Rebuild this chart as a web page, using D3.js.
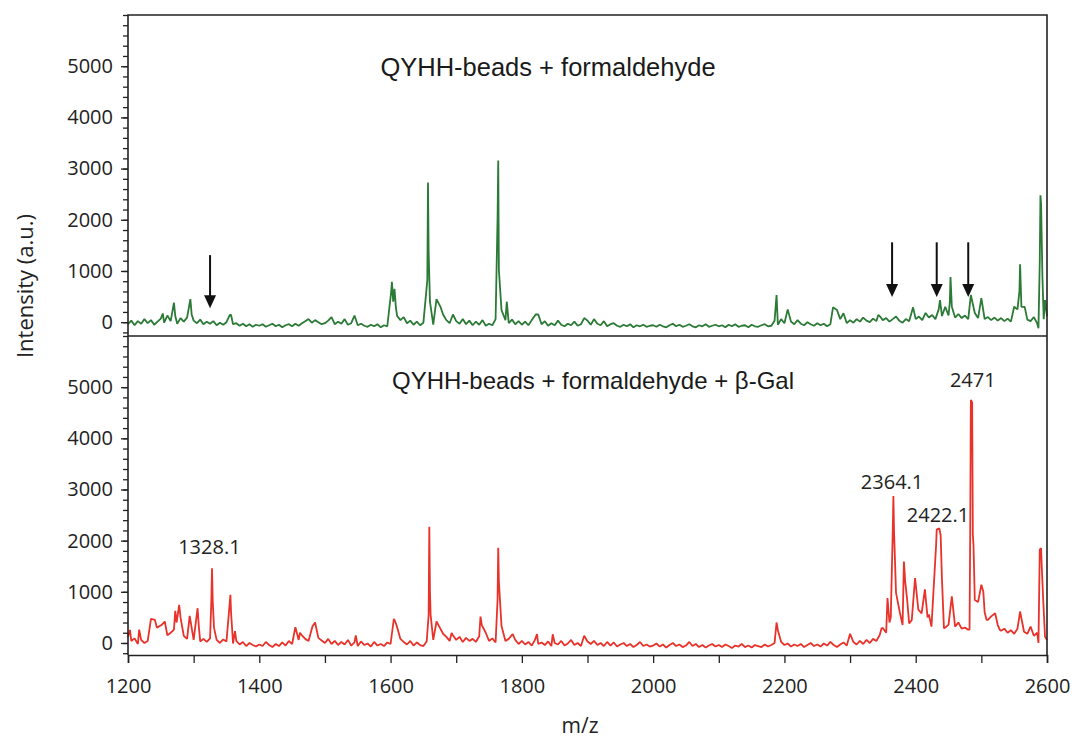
<!DOCTYPE html>
<html>
<head>
<meta charset="utf-8">
<script src="https://cdn.jsdelivr.net/npm/d3@7"></script>
<style>
  body { margin: 0; background: #fff; }
  .tick text { font-family: "Open Sans", sans-serif; font-size: 20px; fill: #222; }
  .title { font-family: "Liberation Sans", Arial, sans-serif; fill: #1a1a1a; }
  .label { font-family: "Open Sans", sans-serif; font-size: 21px; fill: #222; }
  .peak { font-family: "Open Sans", sans-serif; font-size: 20px; fill: #222; }
</style>
</head>
<body>
<svg id="chart" width="1078" height="741"></svg>
<script>
// m/z grid of the baseline arrays: one value every 5 units from 1200
const mzStart = 1200, mzStep = 5

// top spectrum (QYHH-beads + formaldehyde), baseline every 5 m/z
const topBase = [
  -40, 30, -60, 20, -30, 60, -20, 40, -50, 10, 70, -10, 130, 20, 60, -30, 80, 10, 90, 40,
  30, -20, 50, -40, 10, -30, 20, -60, -10, -50, 0, 140, -40, -20, -70, -30, -80, -40, -90, -50,
  -70, -40, -90, -60, -30, -80, -50, -100, -60, -40, -80, -30, -70, -20, 20, 60, -10, 40, 0, -40,
  -20, 30, 100, -40, 10, -30, 60, -50, -20, 130, -60, -30, -70, -90, -50, -80, -40, -100, -60, -80,
  -30, 200, 120, 40, 100, -20, 30, -50, 10, -60, -10, -40, 20, -50, 200, 320, 150, 40, -20, 80,
  20, -30, 60, -40, 30, -60, 10, -50, 40, -70, -30, -60, 60, 250, 120, 40, -20, 50, -40, 20,
  -50, 10, -60, 40, -30, 150, -40, 20, -70, -20, -60, 30, -50, -80, -30, -60, 10, -70, -40, 80,
  30, -50, 60, -30, -60, 20, -80, -40, -20, -70, -90, -50, -80, -40, -100, -60, -80, -50, -90, -70,
  -60, -90, -50, -80, -100, -60, -30, -80, -50, -90, -70, -40, -80, -100, -60, -80, -40, -90, -70, -50,
  -80, -60, -100, -50, -80, -40, -90, -70, -60, -100, -50, -80, -90, -60, -40, -80, -70, 30, -50, 60,
  -20, 80, 10, -40, 40, -30, -60, 0, -40, -70, -20, -60, -30, -80, -40, 50, 240, 60, 120, -20,
  40, -10, 60, 10, 90, 30, 0, 70, 20, 120, 40, 80, 10, 60, 110, 30, -10, 60, 20, 150,
  60, 110, 40, 180, 90, 140, 60, 250, 120, 300, 130, 200, 90, 160, 80, 130, 60, 110, 180, 80,
  150, 60, 100, 40, 90, 30, 80, 20, 70, 10, 180, 250, 120, 80, 50, 20, 100, -20, 160, 60,
  120
]
// sharp peaks of the top spectrum [m/z, intensity]
const topPeaks = [
  [1253, 170], [1270, 380], [1272, 120], [1295, 450], [1297, 150], [1357, 140],
  [1601, 600], [1602, 790], [1604, 400], [1606, 650], [1608, 300],
  [1656, 820], [1657, 2730], [1658, 1370], [1660, 400], [1670, 450], [1676, 300], [1695, 150],
  [1763, 2040], [1764, 3160], [1765, 1020], [1769, 235], [1777, 400], [1821, 150],
  [2188, 530], [2205, 250], [2274, 290], [2290, 175], [2343, 140], [2396, 290],
  [2437, 430], [2452, 400], [2453, 880], [2455, 300], [2484, 530], [2500, 470],
  [2550, 300], [2558, 600], [2559, 1130], [2561, 300], [2566, 300],
  [2587, -120], [2589, 1210], [2590, 2480], [2591, 2300], [2593, 900], [2597, 430]
]

// bottom spectrum (QYHH-beads + formaldehyde + β-Gal), baseline every 5 m/z
const botBase = [
  120, 40, 90, -20, 60, 0, 40, 150, 200, 120, 180, 250, 150, 200, 260, 180, 220, 140, 80, 160,
  60, 100, 30, 80, 20, 90, 40, 60, 0, 70, 30, 80, -10, 40, -30, 20, -60, 0, -40, -70,
  -30, -60, 20, -40, -80, -20, -60, 10, -50, 40, -20, 100, 60, 150, 80, 40, 120, 200, 100, 50,
  0, 80, -20, 40, -40, 20, -30, 60, -50, 10, -60, 30, -40, -10, -70, 20, -50, -20, -60, 10,
  -20, 250, 300, 80, 20, -30, 40, -50, 10, -40, -60, 30, 20, 60, 240, 300, 180, 120, 40, 150,
  60, 120, 20, 100, 40, 80, 20, 130, 50, 200, 40, 90, 10, 150, 100, 40, 80, 0, 60, -20,
  40, -30, 20, -50, 60, -20, 10, -40, 30, -60, 0, -30, 40, -50, -10, 60, -40, 0, -60, 80,
  30, -20, 40, -40, 0, -60, 20, -50, 10, -70, -30, 0, -60, -20, -80, -40, 20, -60, -30, -70,
  -50, -10, -70, -30, -90, -40, 0, -60, -30, -80, -50, 20, -60, -20, -80, -40, -90, -50, -20, -70,
  -40, -80, -30, -60, -100, -50, -70, -20, -80, -50, -90, -40, -60, -80, -30, -70, -40, 0, -60, 20,
  -40, -10, -70, -30, -60, -20, -80, -40, 0, -60, -30, -70, -10, -50, 20, -40, -80, -30, 10, -50,
  180, 20, -30, 40, -20, 60, 0, 80, 40, 150, 290, 200, 400, 300, 600, 420, 350, 500, 380, 450,
  550, 620, 480, 700, 560, 500, 420, 350, 330, 300, 360, 500, 780, 400, 280, 300, 260, 320, 280, 800,
  900, 600, 450, 520, 300, 350, 240, 280, 200, 250, 180, 280, 160, 220, 180, 320, 140, 200, 40, 200,
  60
]
const botPeaks = [
  [1203, 255], [1217, 260], [1235, 470], [1241, 450], [1244, 300], [1251, 350], [1256, 420],
  [1272, 630], [1274, 400], [1278, 745], [1280, 500], [1294, 530], [1306, 680], [1308, 300],
  [1327, 840], [1328, 1460], [1329, 840], [1331, 300], [1356, 940], [1357, 600], [1363, 230],
  [1455, 310], [1462, 200], [1481, 320], [1485, 400], [1547, 150],
  [1605, 470], [1607, 420], [1609, 350], [1658, 550], [1659, 2270], [1660, 1000], [1661, 550],
  [1670, 420], [1693, 195], [1737, 515], [1739, 350], [1763, 845], [1764, 1860], [1765, 1200],
  [1769, 330], [1786, 175], [1823, 175], [1847, 170], [1895, 140], [2188, 400], [2190, 250],
  [2348, 290], [2357, 880], [2362, 500], [2365, 2180], [2366, 2870], [2367, 2180], [2370, 980],
  [2376, 585], [2382, 1590], [2384, 1200], [2387, 840], [2394, 450], [2399, 1270], [2404, 650],
  [2409, 580], [2414, 1050], [2418, 500], [2424, 320], [2431, 1900], [2432, 2215], [2436, 2240],
  [2438, 2100], [2440, 1235], [2443, 290], [2455, 910], [2460, 320], [2482, 260], [2483, 2120],
  [2484, 4750], [2486, 4700], [2487, 2120], [2488, 1920], [2490, 840], [2500, 1140], [2503, 1000],
  [2508, 450], [2521, 580], [2528, 260], [2559, 615], [2587, 0], [2589, 1830], [2591, 1850],
  [2592, 1500], [2594, 900], [2597, 120]
]

// axis ticks
const xTicks = d3.range(1200, 2601, 100)
const xLabels = [1200, 1400, 1600, 1800, 2000, 2200, 2400, 2600]
const yLabels = [0, 1000, 2000, 3000, 4000, 5000]
const yMinor = d3.range(-200, 6001, 200)

// annotations
const arrowsMz = [1325, 2364, 2432, 2480]
const peakLabels = [
  {text: "1328.1", mz: 1324, v: 1740},
  {text: "2364.1", mz: 2364, v: 3000},
  {text: "2422.1", mz: 2434, v: 2370},
  {text: "2471", mz: 2487, v: 5000}
]
const titles = ["QYHH-beads + formaldehyde", "QYHH-beads + formaldehyde + β-Gal"]

const svg = d3.select("#chart")
const left = 128, right = 1047

const x = d3.scaleLinear().domain([1200, 2600]).range([left, right])
// each panel has its own y scale
const panels = [
  {y: d3.scaleLinear().domain([-270, 6000]).range([336, 15]), color: "#2b7a36",
   data: [topBase, topPeaks], title: titles[0], tx: 548, tv: 4800, fs: 25.5},
  {y: d3.scaleLinear().domain([-235, 6000]).range([655, 336]), color: "#e8322a",
   data: [botBase, botPeaks], title: titles[1], tx: 593, tv: 4960, fs: 24}
]

// baseline points and peak points together, sorted by m/z
const merge = (base, peaks) => {
  const pts = base.map((v, i) => [mzStart + mzStep * i, v])
    .filter(p => !peaks.some(q => Math.abs(q[0] - p[0]) < 2))
  return pts.concat(peaks).sort((a, b) => a[0] - b[0])
}

panels.forEach(p => {
  const line = d3.line().x(d => x(d[0])).y(d => p.y(d[1]))
  svg.append("path")
    .datum(merge(p.data[0], p.data[1]))
    .attr("d", line)
    .attr("fill", "none")
    .attr("stroke", p.color)
    .attr("stroke-width", 1.8)
    .attr("stroke-linejoin", "bevel")

  // minor y ticks
  svg.append("g")
    .attr("transform", `translate(${left},0)`)
    .call(d3.axisLeft(p.y).tickValues(yMinor).tickSize(5).tickFormat(""))
    .call(g => g.select(".domain").remove())
    .selectAll("line").attr("stroke", "#222").attr("stroke-width", 1.3)
  // major y ticks with labels
  svg.append("g")
    .attr("transform", `translate(${left},0)`)
    .call(d3.axisLeft(p.y).tickValues(yLabels).tickSize(7).tickPadding(8).tickFormat(d3.format("d")))
    .call(g => g.select(".domain").remove())
    .call(g => g.selectAll("line").attr("stroke", "#222").attr("stroke-width", 1.3))

  svg.append("text")
    .attr("class", "title")
    .attr("x", p.tx)
    .attr("y", p.y(p.tv))
    .attr("text-anchor", "middle")
    .style("font-size", p.fs + "px")
    .text(p.title)
})

const yTop = panels[0].y, yBot = panels[1].y

// frame: left, top, right, separator
svg.append("path")
  .attr("d", `M${left},655V15H${right}V655M${left},336H${right}`)
  .attr("fill", "none").attr("stroke", "#222").attr("stroke-width", 1.6)

// x axis
svg.append("g")
  .attr("transform", `translate(0,655)`)
  .call(d3.axisBottom(x).tickValues(xTicks).tickSize(8)
    .tickFormat(d => xLabels.includes(d) ? d : ""))
  .call(g => g.select(".domain").attr("stroke", "#222").attr("stroke-width", 1.6))
  .call(g => g.selectAll(".tick line").attr("stroke", "#222").attr("stroke-width", 1.3))
  .call(g => g.selectAll("text").attr("y", 24))

// axis titles
svg.append("text").attr("class", "label")
  .attr("x", 580).attr("y", 733).attr("text-anchor", "middle").text("m/z")
svg.append("text").attr("class", "label")
  .attr("transform", `translate(33,${286}) rotate(-90)`)
  .attr("text-anchor", "middle").style("font-size", "22px").text("Intensity (a.u.)")

// arrows in the top panel
arrowsMz.forEach((m, i) => {
  const v0 = i == 0 ? 1310 : 1560, v1 = i == 0 ? 270 : 490
  const ax = x(m), y0 = yTop(v0), y1 = yTop(v1)
  svg.append("line").attr("x1", ax).attr("x2", ax).attr("y1", y0).attr("y2", y1 - 10)
    .attr("stroke", "#111").attr("stroke-width", 2)
  svg.append("path")
    .attr("d", `M${ax - 6},${y1 - 13}L${ax + 6},${y1 - 13}L${ax},${y1}Z`)
    .attr("fill", "#111")
})

// peak labels in the bottom panel
svg.selectAll(".peak")
  .data(peakLabels)
  .join("text")
  .attr("class", "peak")
  .attr("x", d => x(d.mz))
  .attr("y", d => yBot(d.v))
  .attr("text-anchor", "middle")
  .text(d => d.text)
</script>
</body>
</html>
